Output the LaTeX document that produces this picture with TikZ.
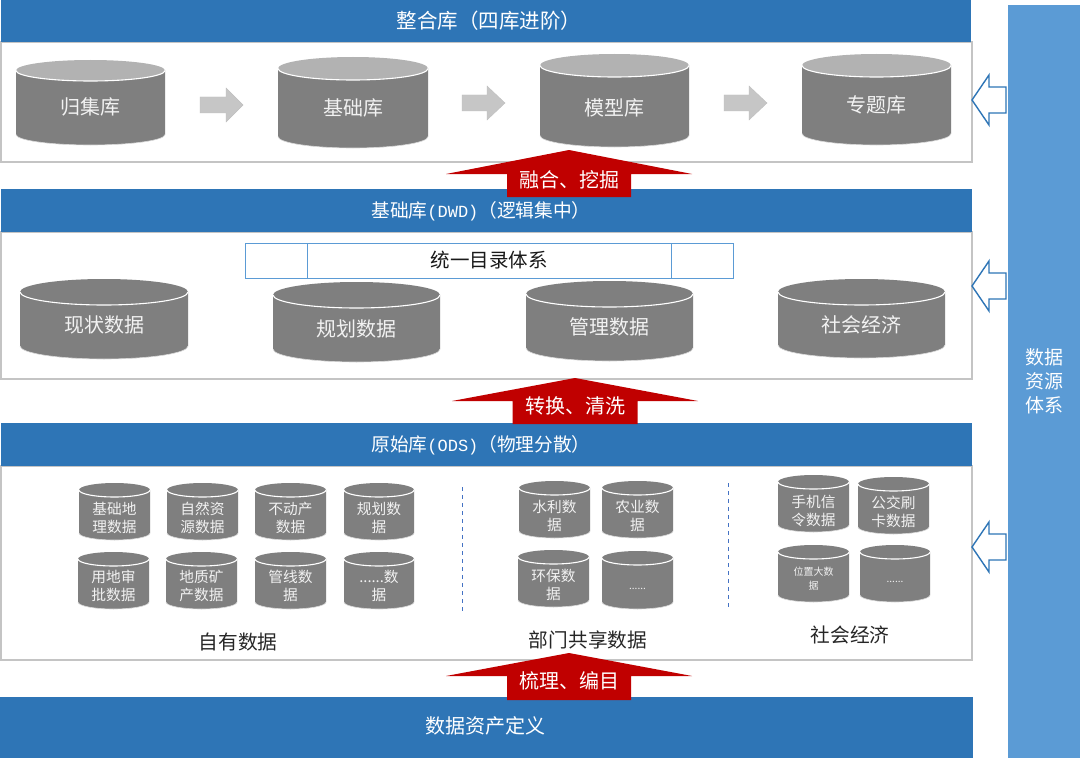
\documentclass[tikz,border=0pt]{standalone}
\usepackage{fontspec}
\setmainfont{Noto Sans CJK SC}
\newfontfamily\latinpart{Liberation Mono}
\usetikzlibrary{calc}
\definecolor{headblue}{HTML}{2E75B6}
\definecolor{barblue}{HTML}{5B9BD5}
\definecolor{framegray}{HTML}{C4C4C4}
\definecolor{dbgray}{HTML}{7F7F7F}
\definecolor{dbtoplight}{HTML}{B2B2B2}
\definecolor{dbtext}{HTML}{F2F2F2}
\definecolor{flowred}{HTML}{C00000}
\definecolor{dashblue}{HTML}{4472C4}
\definecolor{stepgray}{HTML}{C6C6C6}
\tikzset{
  frame/.style={draw=framegray,line width=1.2pt,fill=white},
  header/.style={fill=headblue},
  headtext/.style={text=white,font=\fontsize{18.7}{22}\selectfont,inner sep=0pt},
  dbtop/.style={fill=dbgray},
  dblabel/.style={text=dbtext,font=\fontsize{20}{24}\selectfont,inner sep=0pt,align=center},
  bigdb/.style={dblabel/.style={text=dbtext,font=\fontsize{20}{24}\selectfont,inner sep=0pt,align=center}},
  smalldb/.style={dblabel/.style={text=dbtext,font=\fontsize{14.7}{18}\selectfont,inner sep=0pt,align=center}},
  tinydb/.style={dblabel/.style={text=dbtext,font=\fontsize{10}{14}\selectfont,inner sep=0pt,align=center}},
  stepflow/.style={fill=stepgray,draw=black!25,line width=.4pt},
  hollow/.style={draw=headblue,line width=1.4pt,fill=white,line join=miter},
  redup/.style={fill=flowred},
  redtext/.style={text=white,font=\fontsize{20}{24}\selectfont,inner sep=0pt},
  grouptext/.style={text=black!85,font=\fontsize{19.7}{24}\selectfont,inner sep=0pt},
  divider/.style={draw=dashblue,line width=1pt,dash pattern=on 4pt off 4pt},
  catalog/.style={draw=barblue,line width=1pt,fill=white}
}
% #1 name, #2 left, #3 right, #4 top, #5 bottom, #6 lid half-height, #7 label y, #8 label
\newcommand{\dbcyl}[8]{%
  \pgfmathsetmacro{\hw}{(#3-#2)/2}%
  \pgfmathsetmacro{\cxx}{(#3+#2)/2}%
  \pgfmathsetmacro{\lidy}{#4+#6}%
  \pgfmathsetmacro{\sidey}{#5-#6}%
  \fill[dbgray] (#2,\lidy) -- (#2,\sidey)
    arc[start angle=180,end angle=360,x radius=\hw pt,y radius=#6 pt] -- (#3,\lidy) -- cycle;
  \draw[black!15,line width=.6pt] (#2,\sidey)
    arc[start angle=180,end angle=360,x radius=\hw pt,y radius=#6 pt];
  \fill[dbtop] (\cxx,\lidy) circle[x radius=\hw pt,y radius=#6 pt];
  \draw[white,line width=1.1pt] (#2,\lidy)
    arc[start angle=180,end angle=360,x radius=\hw pt,y radius=#6 pt];
  \node[dblabel] (#1) at (\cxx,#7) {#8};
}
% #1 tip y: hollow arrow from the resource bar toward a layer
\newcommand{\hollowarrow}[1]{%
  \draw[hollow] (1006,#1-13) -- (989,#1-13) -- (989,#1-25) -- (972,#1) -- (989,#1+25) -- (989,#1+13) -- (1006,#1+13) -- cycle;
}
% #1 name, #2 tip x, #3 tip y, #4 half wing, #5 wing y, #6 half body, #7 bottom, #8 label y, #9 label
\newcommand{\redarrow}[9]{%
  \fill[redup] (#2,#3) -- (#2+#4,#5) -- (#2+#6,#5) -- (#2+#6,#7) -- (#2-#6,#7) -- (#2-#6,#5) -- (#2-#4,#5) -- cycle;
  \node[redtext] (#1) at (#2,#8) {#9};
}
% #1 left, #2 tip right, #3 neck x, #4 centre y, #5 half height
\newcommand{\stepshape}[5]{%
  \filldraw[stepflow] (#1,#4-8) -- (#3,#4-8) -- (#3,#4-#5) -- (#2,#4) -- (#3,#4+#5) -- (#3,#4+8) -- (#1,#4+8) -- cycle;
}
\begin{document}
\begin{tikzpicture}[x=1pt,y=-1pt]
\useasboundingbox (0,0) rectangle (1080,760);
\fill[white] (0,0) rectangle (1080,760);

% resource bar on the right
\fill[barblue] (1008,5) rectangle (1080,758);
\node[text=white,font=\fontsize{19}{24}\selectfont,align=center,inner sep=0pt] (resbar) at (1044,381) {数据\\资源\\体系};

% layer frames
\draw[frame] (1,42) rectangle (972,162);
\draw[frame] (1,232) rectangle (972,379);
\draw[frame] (1,466) rectangle (972,660);

% layer headers
\fill[header] (1,0) rectangle (971,42);
\node[headtext,font=\fontsize{20.5}{24}\selectfont] (h1) at (489,21) {整合库（四库进阶）};
\fill[header] (1,189) rectangle (972,232);
\node[headtext] (h2) at (481,211) {基础库{\latinpart\fontsize{17}{20}\selectfont(DWD)}（逻辑集中）};
\fill[header] (1,423) rectangle (972,466);
\node[headtext] (h3) at (481,445) {原始库{\latinpart\fontsize{17}{20}\selectfont(ODS)}（物理分散）};
\fill[header] (0,697) rectangle (973,758);
\node[headtext,font=\fontsize{20}{24}\selectfont] (h4) at (485,726) {数据资产定义};

% integration layer
\begin{scope}[bigdb,dbtop/.style={fill=dbtoplight}]
  \dbcyl{gj}{16}{165}{60}{145}{10.5}{107}{归集库}
  \dbcyl{jc}{278}{428}{57}{148}{11.5}{108}{基础库}
  \dbcyl{mx}{540}{689}{54}{147}{11.5}{108}{模型库}
  \dbcyl{zt}{802}{951}{54}{145}{11.5}{105}{专题库}
\end{scope}
\stepshape{200}{243}{226}{105}{17}
\stepshape{462}{505}{487}{103}{17}
\stepshape{724}{767}{749}{103}{17}

% unified catalogue strip
\draw[catalog] (245,243) rectangle (733,278);
\draw[catalog] (307,243) -- (307,278) (671,243) -- (671,278);
\node[text=black!90,font=\fontsize{19.5}{22}\selectfont,inner sep=0pt] (cat) at (489,260) {统一目录体系};

% foundation layer
\begin{scope}[bigdb]
  \dbcyl{xz}{20}{188}{279}{359}{13}{325}{现状数据}
  \dbcyl{gh}{273}{440}{282}{362}{13}{329}{规划数据}
  \dbcyl{gl}{526}{693}{281}{361}{13}{327}{管理数据}
  \dbcyl{sh}{778}{945}{279}{358}{13}{325}{社会经济}
\end{scope}

% raw layer: own data
\begin{scope}[smalldb]
  \dbcyl{a1}{79}{150}{483}{540}{7}{518}{基础地\\理数据}
  \dbcyl{a2}{167}{238}{483}{540}{7}{518}{自然资\\源数据}
  \dbcyl{a3}{255}{326}{483}{540}{7}{518}{不动产\\数据}
  \dbcyl{a4}{344}{414}{483}{540}{7}{518}{规划数\\据}
  \dbcyl{b1}{78}{149}{552}{609}{7}{586}{用地审\\批数据}
  \dbcyl{b2}{166}{237}{552}{609}{7}{586}{地质矿\\产数据}
  \dbcyl{b3}{255}{326}{552}{609}{7}{586}{管线数\\据}
  \dbcyl{b4}{344}{414}{552}{609}{7}{586}{......数\\据}
  % shared departmental data
  \dbcyl{c1}{519}{590}{481}{538}{7}{516}{水利数\\据}
  \dbcyl{c2}{602}{673}{481}{538}{7}{516}{农业数\\据}
  \dbcyl{c3}{518}{589}{550}{607}{7}{585}{环保数\\据}
  % social and economic data
  \dbcyl{d1}{778}{849}{475}{532}{7}{511}{手机信\\令数据}
  \dbcyl{d2}{858}{929}{477}{534}{7}{512}{公交刷\\卡数据}
\end{scope}
\begin{scope}[tinydb]
  \dbcyl{c4}{602}{673}{551}{609}{7}{589}{......}
  \dbcyl{d3}{778}{849}{545}{602}{7}{579}{位置大数\\据}
  \dbcyl{d4}{860}{930}{545}{602}{7}{582}{......}
\end{scope}

\coordinate (s1a) at (462,487);
\coordinate (s1b) at (462,613);
\coordinate (s2a) at (728,483);
\coordinate (s2b) at (728,610);
\draw[divider] (s1a) -- (s1b);
\draw[divider] (s2a) -- (s2b);

\node[grouptext] (g1) at (238,642) {自有数据};
\node[grouptext] (g2) at (588,640) {部门共享数据};
\node[grouptext] (g3) at (850,635) {社会经济};

% flows between layers
\redarrow{r1}{569}{150}{123}{174}{62}{197}{180}{融合、挖掘}
\redarrow{r2}{575}{378}{123}{401}{62.5}{424}{406}{转换、清洗}
\redarrow{r3}{569}{653}{123}{676}{62}{700}{681}{梳理、编目}

% arrows from the resource bar
\hollowarrow{100}
\hollowarrow{286}
\hollowarrow{547}
\end{tikzpicture}
\end{document}
